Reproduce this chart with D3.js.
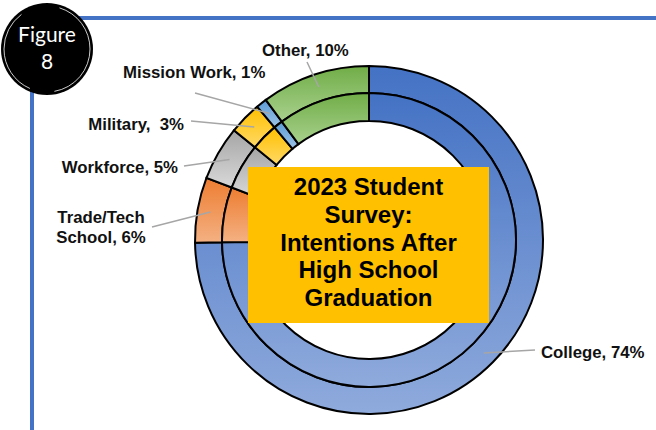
<!DOCTYPE html>
<html>
<head>
<meta charset="utf-8">
<script src="https://cdn.jsdelivr.net/npm/d3@7"></script>
<style>
  html, body { margin: 0; padding: 0; background: #fff; }
  svg { display: block; }
  text { font-family: "Liberation Sans", Arial, sans-serif; }
</style>
</head>
<body>
<div id="chart"></div>
<script>
// data
const categories = ['College', 'Trade/Tech School', 'Workforce', 'Military', 'Mission Work', 'Other'];
const values = [74, 6, 5, 3, 1, 10];
const labelLines = [
    ['College, 74%'],
    ['Trade/Tech', 'School, 6%'],
    ['Workforce, 5%'],
    ['Military,  3%'],
    ['Mission Work, 1%'],
    ['Other, 10%']
];
const titleLines = ['2023 Student', 'Survey:', 'Intentions After', 'High School', 'Graduation'];

// gradient colours per slice: [top, bottom]
const colors = [
    ['#4472C4', '#8FAADC'],
    ['#ED7D31', '#F4B183'],
    ['#A5A5A5', '#D9D9D9'],
    ['#FFC000', '#FFD966'],
    ['#5B9BD5', '#9DC3E6'],
    ['#70AD47', '#A9D18E']
];

// label layout: text anchor point, alignment, leader start
const labelLayout = [
    { x: 541, y: 358, anchor: 'start', lx: 535, ly: 350 },
    { x: 101, y: 223, anchor: 'middle', lx: 152, ly: 227 },
    { x: 178, y: 173, anchor: 'end', lx: 184, ly: 166 },
    { x: 184, y: 130, anchor: 'end', lx: 191, ly: 121 },
    { x: 123, y: 78, anchor: 'start', lx: 195, ly: 93 },
    { x: 262, y: 56, anchor: 'start', lx: 307, ly: 62 }
];

const W = 656, H = 430;
const cx = 369, cy = 240;
const rOuter = 174, rMid = 147, rInner = 119;

const svg = d3.select('#chart').append('svg')
    .attr('width', W)
    .attr('height', H);

const defs = svg.append('defs');
colors.forEach((c, i) => {
    const g = defs.append('linearGradient')
        .attr('id', 'grad' + i)
        .attr('x1', 0).attr('y1', 0).attr('x2', 0).attr('y2', 1);
    g.append('stop').attr('offset', '0%').attr('stop-color', c[0]);
    g.append('stop').attr('offset', '100%').attr('stop-color', c[1]);
});

// frame lines
svg.append('line')
    .attr('x1', 40).attr('x2', W)
    .attr('y1', 18).attr('y2', 18)
    .attr('stroke', '#4472C4')
    .attr('stroke-width', 4);
svg.append('line')
    .attr('x1', 32).attr('x2', 32)
    .attr('y1', 60).attr('y2', H)
    .attr('stroke', '#4472C4')
    .attr('stroke-width', 4);

// figure badge
const badge = svg.append('g').attr('transform', 'translate(47,49)');
badge.append('circle').attr('r', 46).attr('fill', '#000');
badge.append('circle').attr('r', 43)
    .attr('fill', 'none')
    .attr('stroke', '#fff')
    .attr('stroke-width', 0.8)
    .attr('stroke-dasharray', '60 25 90 40');
badge.append('text')
    .attr('y', -7)
    .attr('text-anchor', 'middle')
    .attr('fill', '#fff')
    .style('font-family', 'Lato, "Open Sans", sans-serif')
    .style('font-size', '21px')
    .text('Figure');
badge.append('text')
    .attr('y', 20)
    .attr('text-anchor', 'middle')
    .attr('fill', '#fff')
    .style('font-family', 'Lato, "Open Sans", sans-serif')
    .style('font-size', '21px')
    .text('8');

// doughnut
const pie = d3.pie().sort(null).value(d => d);
const arcs = pie(values);

const chart = svg.append('g').attr('transform', `translate(${cx},${cy})`);

const rings = [[rMid, rOuter], [rInner, rMid]];
rings.forEach(r => {
    const arc = d3.arc().innerRadius(r[0]).outerRadius(r[1]);
    chart.append('g').selectAll('path')
        .data(arcs)
        .enter()
        .append('path')
        .attr('d', arc)
        .attr('fill', (d, i) => `url(#grad${i})`)
        .attr('stroke', '#000')
        .attr('stroke-width', 2);
});

// leader lines
const leaderArc = d3.arc().innerRadius(161).outerRadius(161);
chart.append('g').selectAll('line')
    .data(arcs)
    .enter()
    .append('line')
    .attr('x1', (d, i) => labelLayout[i].lx - cx)
    .attr('y1', (d, i) => labelLayout[i].ly - cy)
    .attr('x2', d => leaderArc.centroid(d)[0])
    .attr('y2', d => leaderArc.centroid(d)[1])
    .attr('stroke', '#A6A6A6')
    .attr('stroke-width', 1.5);

// labels
const labels = svg.append('g').selectAll('text')
    .data(labelLines)
    .enter()
    .append('text')
    .attr('x', (d, i) => labelLayout[i].x)
    .attr('y', (d, i) => labelLayout[i].y)
    .attr('text-anchor', (d, i) => labelLayout[i].anchor)
    .style('font-size', '16.8px')
    .style('font-weight', 'bold')
    .style('white-space', 'pre')
    .attr('fill', '#111');
labels.each(function(lines, i) {
    d3.select(this).selectAll('tspan')
        .data(lines)
        .enter()
        .append('tspan')
        .attr('x', labelLayout[i].x)
        .attr('dy', (l, j) => j === 0 ? 0 : 20)
        .text(l => l);
});

// title box
const box = { x: 248, y: 167, w: 241, h: 156 };
svg.append('rect')
    .attr('x', box.x).attr('y', box.y)
    .attr('width', box.w).attr('height', box.h)
    .attr('fill', '#FFC000');
svg.append('g').selectAll('text')
    .data(titleLines)
    .enter()
    .append('text')
    .attr('x', box.x + box.w / 2)
    .attr('y', (d, i) => 195 + i * 27.8)
    .attr('text-anchor', 'middle')
    .style('font-size', '24px')
    .style('font-weight', 'bold')
    .attr('fill', '#000')
    .text(d => d);
</script>
</body>
</html>
